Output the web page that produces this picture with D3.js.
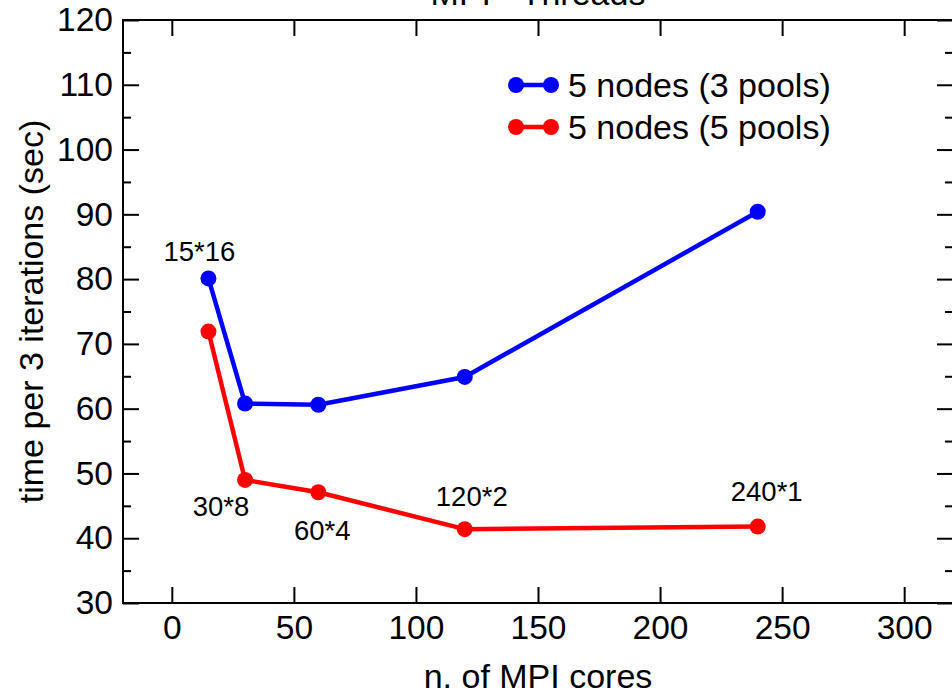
<!DOCTYPE html>
<html>
<head>
<meta charset="utf-8">
<script src="https://cdn.jsdelivr.net/npm/d3@7"></script>
<style>
  html, body { margin: 0; padding: 0; background: #fff; }
  svg { display: block; font-family: "Liberation Sans", Arial, Helvetica, sans-serif; }
</style>
</head>
<body>
<svg id="chart" width="952" height="695"></svg>
<script>
// ---- data ----
const cores = [15, 30, 60, 120, 240];
const pools3 = [80.1, 60.8, 60.6, 64.9, 90.4];
const pools5 = [71.9, 49.0, 47.1, 41.4, 41.8];
const seriesNames = ["5 nodes (3 pools)", "5 nodes (5 pools)"];
const annotations = ["15*16", "30*8", "60*4", "120*2", "240*1"];
const annotationSeries = [0, 1, 1, 1, 1];
const xTicks = [0, 50, 100, 150, 200, 250, 300];
const yTicks = [30, 40, 50, 60, 70, 80, 90, 100, 110, 120];
const yMinorTicks = [35, 45, 55, 65, 75, 85, 95, 105, 115];

// ---- layout ----
const W = 952, H = 695;
const L = 123, R = 953, T = 20, B = 603;
const colors = ["#0000ff", "#ff0000"];
const annOffsets = [[-9, -17], [-24, 36], [4, 48], [7, -23], [9, -26]];

const svg = d3.select("#chart");
svg.append("rect").attr("width", W).attr("height", H).attr("fill", "#fff");

const x = d3.scaleLinear().domain([-20, 320]).range([L, R]);
const y = d3.scaleLinear().domain([30, 120]).range([B, T]);

const tickFont = 33.5;
const major = 16, minor = 8;

function styleAxis(g) {
  g.select(".domain").remove();
  g.selectAll(".tick line").attr("stroke", "#000").attr("stroke-width", 2);
  g.selectAll("text").attr("font-size", tickFont).attr("fill", "#000")
    .attr("font-family", "'Liberation Sans', Arial, sans-serif");
}

// left axis (inward ticks)
svg.append("g").attr("transform", `translate(${L},0)`)
  .call(d3.axisLeft(y).tickValues(yTicks).tickSize(-major).tickPadding(10).tickFormat(d3.format("d")))
  .call(styleAxis);
svg.append("g").attr("transform", `translate(${L},0)`)
  .call(d3.axisLeft(y).tickValues(yMinorTicks).tickSize(-minor).tickFormat(""))
  .call(styleAxis);
// right axis
svg.append("g").attr("transform", `translate(${R},0)`)
  .call(d3.axisRight(y).tickValues(yTicks).tickSize(-major).tickFormat(""))
  .call(styleAxis);
svg.append("g").attr("transform", `translate(${R},0)`)
  .call(d3.axisRight(y).tickValues(yMinorTicks).tickSize(-minor).tickFormat(""))
  .call(styleAxis);
// bottom axis
svg.append("g").attr("transform", `translate(0,${B})`)
  .call(d3.axisBottom(x).tickValues(xTicks).tickSize(-major).tickPadding(12).tickFormat(d3.format("d")))
  .call(styleAxis);
// top axis
svg.append("g").attr("transform", `translate(0,${T})`)
  .call(d3.axisTop(x).tickValues(xTicks).tickSize(-major).tickFormat(""))
  .call(styleAxis);

// frame
svg.append("rect").attr("x", L).attr("y", T).attr("width", R - L).attr("height", B - T)
  .attr("fill", "none").attr("stroke", "#000").attr("stroke-width", 2);

// title
svg.append("text").attr("x", (L + R) / 2).attr("y", 5).attr("text-anchor", "middle")
  .attr("font-size", 34).text("MPI - Threads");

// axis titles
svg.append("text").attr("x", (L + R) / 2).attr("y", 688).attr("text-anchor", "middle")
  .attr("font-size", 34).text("n. of MPI cores");
svg.append("text").attr("transform", `translate(43,${(T + B) / 2}) rotate(-90)`)
  .attr("text-anchor", "middle").attr("font-size", 34).text("time per 3 iterations (sec)");

// series
const allSeries = [pools3, pools5];
const line = d3.line().x(d => x(d[0])).y(d => y(d[1]));
allSeries.forEach((vals, i) => {
  const pts = cores.map((c, j) => [c, vals[j]]);
  svg.append("path").datum(pts).attr("d", line)
    .attr("fill", "none").attr("stroke", colors[i]).attr("stroke-width", 4.5)
    .attr("stroke-linejoin", "round");
  svg.selectAll(null).data(pts).enter().append("circle")
    .attr("cx", d => x(d[0])).attr("cy", d => y(d[1])).attr("r", 8)
    .attr("fill", colors[i]);
});

// annotations
annotations.forEach((t, k) => {
  const s = allSeries[annotationSeries[k]];
  svg.append("text")
    .attr("x", x(cores[k]) + annOffsets[k][0])
    .attr("y", y(s[k]) + annOffsets[k][1])
    .attr("text-anchor", "middle").attr("font-size", 27.5).text(t);
});

// legend
const lg = svg.append("g").attr("transform", "translate(516,85)");
seriesNames.forEach((name, i) => {
  const row = lg.append("g").attr("transform", `translate(0,${i * 42})`);
  row.append("line").attr("x1", 0).attr("x2", 35).attr("y1", 0).attr("y2", 0)
    .attr("stroke", colors[i]).attr("stroke-width", 4.5);
  row.append("circle").attr("cx", 0).attr("cy", 0).attr("r", 8).attr("fill", colors[i]);
  row.append("circle").attr("cx", 35).attr("cy", 0).attr("r", 8).attr("fill", colors[i]);
  row.append("text").attr("x", 52).attr("y", 0).attr("dy", "0.35em")
    .attr("font-size", 34).text(name);
});
</script>
</body>
</html>
